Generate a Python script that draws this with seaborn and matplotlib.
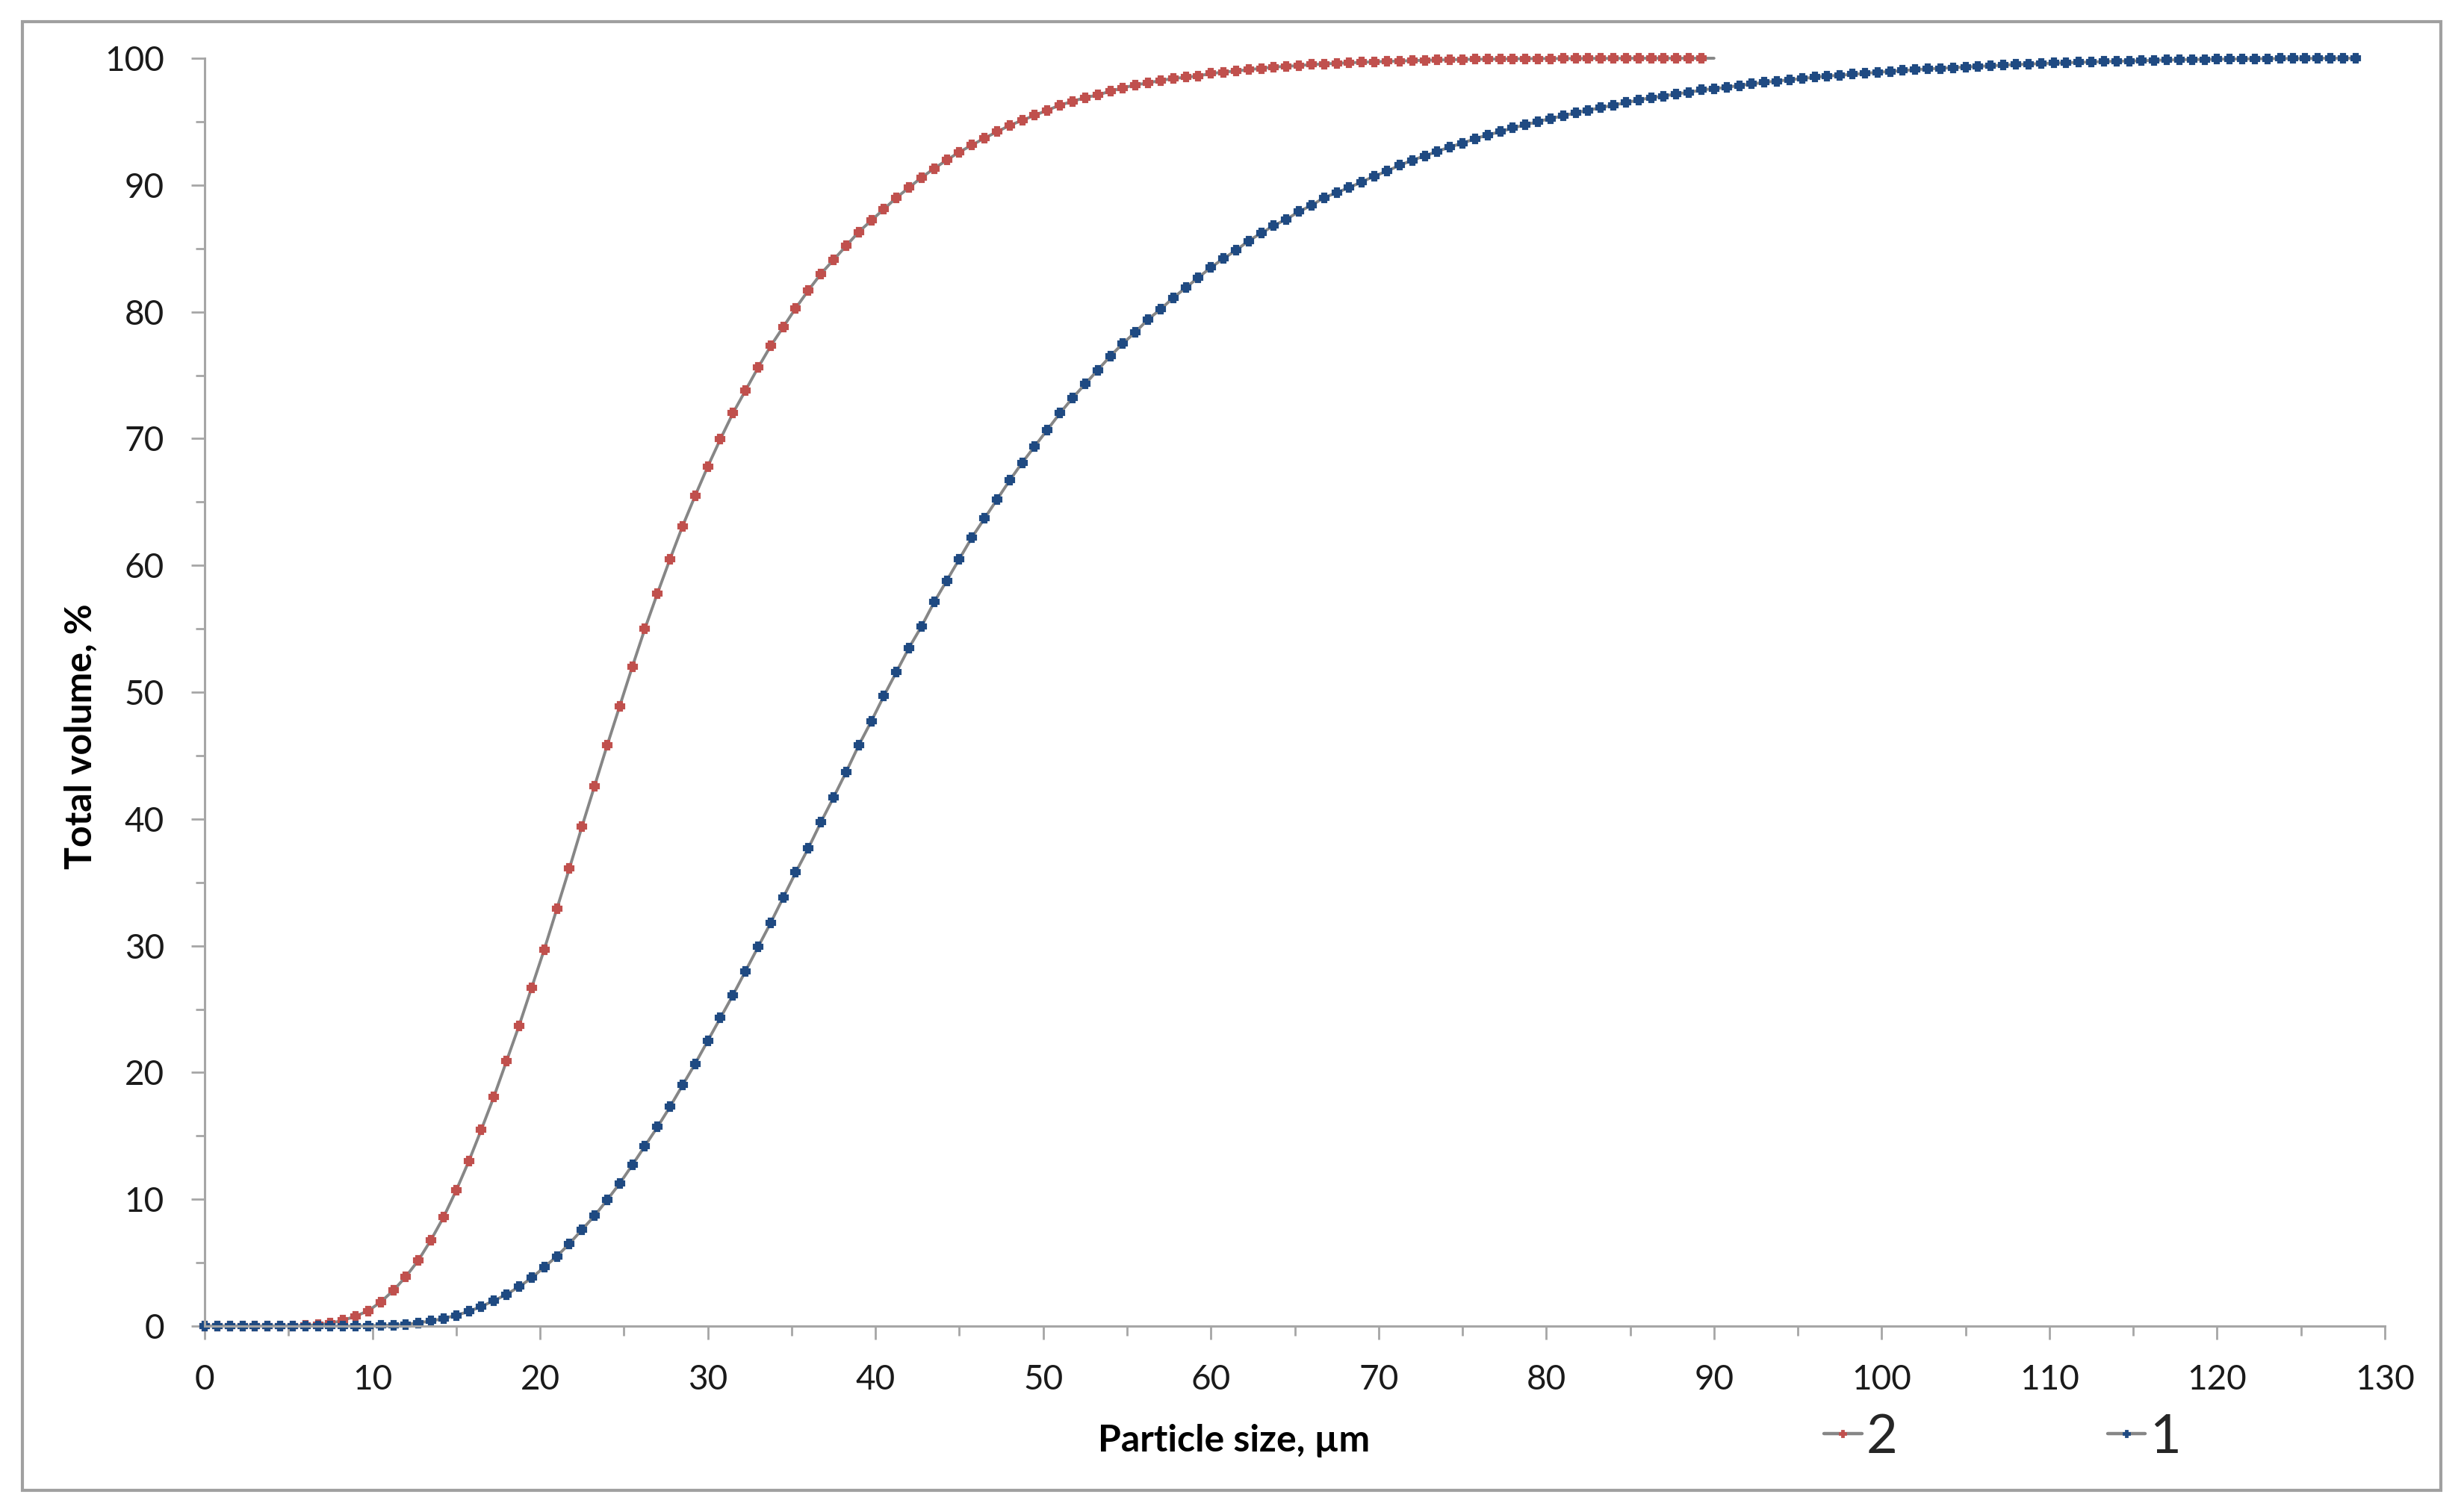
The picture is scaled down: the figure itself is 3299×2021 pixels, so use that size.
import numpy as np
import pandas as pd
import matplotlib
matplotlib.use("Agg")
import matplotlib.pyplot as plt
from matplotlib.lines import Line2D
from matplotlib.patches import Rectangle
from matplotlib.ticker import MultipleLocator
import seaborn as sns

# ------------------------------
# Data (particle size in um, cumulative volume in %)
# ------------------------------
size_um = [
    0, 0.75, 1.5, 2.25, 3, 3.75, 4.5, 5.25,
    6, 6.75, 7.5, 8.25, 9, 9.75, 10.5, 11.25,
    12, 12.75, 13.5, 14.25, 15, 15.75, 16.5, 17.25,
    18, 18.75, 19.5, 20.25, 21, 21.75, 22.5, 23.25,
    24, 24.75, 25.5, 26.25, 27, 27.75, 28.5, 29.25,
    30, 30.75, 31.5, 32.25, 33, 33.75, 34.5, 35.25,
    36, 36.75, 37.5, 38.25, 39, 39.75, 40.5, 41.25,
    42, 42.75, 43.5, 44.25, 45, 45.75, 46.5, 47.25,
    48, 48.75, 49.5, 50.25, 51, 51.75, 52.5, 53.25,
    54, 54.75, 55.5, 56.25, 57, 57.75, 58.5, 59.25,
    60, 60.75, 61.5, 62.25, 63, 63.75, 64.5, 65.25,
    66, 66.75, 67.5, 68.25, 69, 69.75, 70.5, 71.25,
    72, 72.75, 73.5, 74.25, 75, 75.75, 76.5, 77.25,
    78, 78.75, 79.5, 80.25, 81, 81.75, 82.5, 83.25,
    84, 84.75, 85.5, 86.25, 87, 87.75, 88.5, 89.25,
    90, 90.75, 91.5, 92.25, 93, 93.75, 94.5, 95.25,
    96, 96.75, 97.5, 98.25, 99, 99.75, 100.5, 101.25,
    102, 102.75, 103.5, 104.25, 105, 105.75, 106.5, 107.25,
    108, 108.75, 109.5, 110.25, 111, 111.75, 112.5, 113.25,
    114, 114.75, 115.5, 116.25, 117, 117.75, 118.5, 119.25,
    120, 120.75, 121.5, 122.25, 123, 123.75, 124.5, 125.25,
    126, 126.75, 127.5, 128.25,
]

# sample 1 (blue)
volume_1 = [
    0, 0, 0, 0, 0, 0, 0, 0,
    0, 0, 0, 0, 0, 0.02, 0.05, 0.07,
    0.12, 0.26, 0.4, 0.6, 0.85, 1.15, 1.55, 2.0,
    2.5, 3.1, 3.8, 4.65, 5.5, 6.5, 7.6, 8.7,
    9.95, 11.25, 12.7, 14.2, 15.7, 17.3, 19.0, 20.7,
    22.5, 24.3, 26.1, 28.0, 29.9, 31.8, 33.8, 35.8,
    37.7, 39.75, 41.7, 43.7, 45.8, 47.7, 49.7, 51.6,
    53.5, 55.2, 57.1, 58.8, 60.5, 62.2, 63.7, 65.2,
    66.7, 68.1, 69.4, 70.7, 72.0, 73.2, 74.3, 75.4,
    76.5, 77.5, 78.4, 79.4, 80.2, 81.1, 81.9, 82.7,
    83.5, 84.2, 84.85, 85.6, 86.2, 86.8, 87.3, 87.9,
    88.4, 89.0, 89.4, 89.8, 90.25, 90.7, 91.1, 91.55,
    91.95, 92.3, 92.65, 93.0, 93.3, 93.65, 93.95, 94.2,
    94.5, 94.75, 95.0, 95.25, 95.45, 95.7, 95.9, 96.1,
    96.3, 96.5, 96.7, 96.9, 97.0, 97.2, 97.3, 97.5,
    97.6, 97.7, 97.85, 97.97, 98.1, 98.2, 98.3, 98.4,
    98.5, 98.6, 98.65, 98.74, 98.8, 98.9, 98.95, 99.03,
    99.1, 99.16, 99.2, 99.26, 99.3, 99.36, 99.4, 99.46,
    99.5, 99.54, 99.58, 99.62, 99.64, 99.68, 99.7, 99.74,
    99.76, 99.78, 99.8, 99.84, 99.86, 99.88, 99.9, 99.9,
    99.92, 99.94, 99.94, 99.96, 99.96, 99.98, 99.98, 99.98,
    100, 100, 100, 100,
]

# sample 2 (red), same size grid up to 90 um
volume_2 = [
    0, 0, 0, 0, 0, 0, 0, 0.02,
    0.05, 0.1, 0.22, 0.45, 0.78, 1.2, 1.9, 2.8,
    3.9, 5.2, 6.8, 8.6, 10.7, 13.0, 15.5, 18.1,
    20.9, 23.7, 26.7, 29.7, 32.9, 36.1, 39.4, 42.6,
    45.8, 48.9, 52.0, 55.0, 57.8, 60.5, 63.1, 65.5,
    67.8, 69.95, 72.0, 73.8, 75.6, 77.3, 78.8, 80.3,
    81.7, 83.0, 84.1, 85.2, 86.3, 87.2, 88.1, 89.0,
    89.8, 90.6, 91.3, 91.97, 92.6, 93.15, 93.7, 94.2,
    94.7, 95.1, 95.5, 95.9, 96.3, 96.6, 96.9, 97.1,
    97.4, 97.66, 97.9, 98.05, 98.25, 98.4, 98.5, 98.6,
    98.8, 98.9, 99.0, 99.1, 99.2, 99.3, 99.36, 99.42,
    99.5, 99.55, 99.6, 99.64, 99.68, 99.72, 99.75, 99.78,
    99.81, 99.84, 99.86, 99.88, 99.9, 99.92, 99.93, 99.94,
    99.95, 99.96, 99.97, 99.97, 99.98, 99.98, 99.99, 99.99,
    99.99, 100, 100, 100, 100, 100, 100, 100,
    100,
]

series_labels = ["2", "1"]
x_ticks = list(range(0, 131, 10))
y_ticks = list(range(0, 101, 10))

df1 = pd.DataFrame({"size": size_um, "volume": volume_1})
df2 = pd.DataFrame({"size": size_um[:len(volume_2)], "volume": volume_2})

# ------------------------------
# Style
# ------------------------------
sns.set_style("white")
plt.rcParams["font.family"] = ["Lato", "DejaVu Sans"]

red = "#C0504D"
blue = "#1F4A82"
line_gray = "#868686"
axis_gray = "#A6A6A6"

fig = plt.figure(figsize=(32.99, 20.21), dpi=100)
ax = fig.add_axes([274 / 3299, 1 - 1776 / 2021, (3193 - 274) / 3299, (1776 - 78) / 2021])

marker_kw = dict(marker="P", markersize=7.5, markeredgewidth=3)

# series 2 first, series 1 drawn on top
sns.lineplot(data=df2, x="size", y="volume", ax=ax, color=line_gray, linewidth=2.8,
             markerfacecolor=red, markeredgecolor=red,
             markevery=list(range(len(volume_2) - 1)), clip_on=False, **marker_kw)
sns.lineplot(data=df1, x="size", y="volume", ax=ax, color=line_gray, linewidth=2.8,
             markerfacecolor=blue, markeredgecolor=blue, clip_on=False, **marker_kw)

ax.set_xlim(0, 130)
ax.set_ylim(0, 100)
ax.set_xticks(x_ticks)
ax.set_yticks(y_ticks)
ax.xaxis.set_minor_locator(MultipleLocator(5))
ax.yaxis.set_minor_locator(MultipleLocator(5))

for side in ["top", "right"]:
    ax.spines[side].set_visible(False)
for side in ["left", "bottom"]:
    ax.spines[side].set_color(axis_gray)
    ax.spines[side].set_linewidth(2.2)

ax.tick_params(which="major", direction="out", length=13, width=2, color=axis_gray,
               labelsize=33, labelcolor="#1a1a1a")
ax.tick_params(which="minor", direction="out", length=9, width=2, color=axis_gray)
ax.tick_params(axis="x", which="major", pad=24)
ax.tick_params(axis="y", which="major", pad=26)
ax.tick_params(which="both", bottom=True, left=True)

ax.set_xlabel("Particle size, µm", fontsize=36, fontweight="bold", color="black")
ax.set_ylabel("Total volume, %", fontsize=36, fontweight="bold", color="black")
ax.xaxis.set_label_coords(0.472, -0.077)
ax.yaxis.set_label_coords(-0.049, 0.465)

# legend at the bottom right, Excel style
handles = [
    Line2D([], [], color=line_gray, linewidth=3.2, marker="P", markersize=6,
           markeredgewidth=2, markerfacecolor=red, markeredgecolor=red),
    Line2D([], [], color=line_gray, linewidth=3.2, marker="P", markersize=6,
           markeredgewidth=2, markerfacecolor=blue, markeredgecolor=blue),
]
fig.legend(handles, series_labels, loc="center left", bbox_to_anchor=(2442 / 3299, 1 - 1925 / 2021),
           ncol=2, frameon=False, fontsize=52, handlelength=0.7, handletextpad=0.08,
           columnspacing=3.9, borderpad=0, borderaxespad=0)

# outer chart border
fig.patches.append(Rectangle((30 / 3299, 1 - 1996 / 2021), 3238 / 3299, 1967 / 2021,
                             transform=fig.transFigure, fill=False,
                             edgecolor="#A0A0A0", linewidth=3))

fig.savefig("out.png", dpi=100, facecolor="white")
